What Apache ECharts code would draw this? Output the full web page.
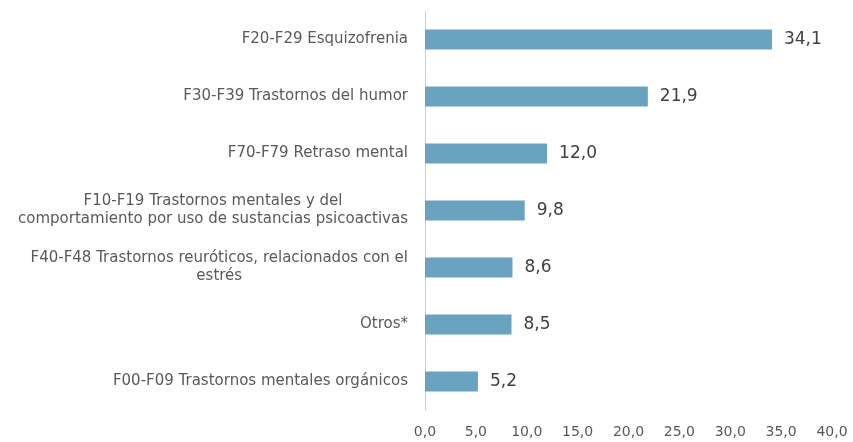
<!DOCTYPE html>
<html>
<head>
<meta charset="utf-8">
<script src="https://cdn.jsdelivr.net/npm/echarts@6/dist/echarts.min.js"></script>
<style>
  html, body { margin: 0; padding: 0; background: #fff; }
  #main { width: 853px; height: 442px; }
</style>
</head>
<body>
<div id="main"></div>
<script>
// categories, bottom to top (echarts draws category axis upward)
var categories = [
  "F00-F09 Trastornos mentales orgánicos",
  "Otros*",
  "F40-F48 Trastornos reuróticos, relacionados con el\nestrés",
  "F10-F19 Trastornos mentales y del\ncomportamiento por uso de sustancias psicoactivas",
  "F70-F79 Retraso mental",
  "F30-F39 Trastornos del humor",
  "F20-F29 Esquizofrenia"
];
var values = [5.2, 8.5, 8.6, 9.8, 12.0, 21.9, 34.1];

function coma(v) {
  return Number(v).toFixed(1).replace(".", ",");
}

var myChart = echarts.init(document.getElementById("main"));

var option = {
  animation: false,
  textStyle: { fontFamily: "DejaVu Sans" },
  grid: {
    left: 425,
    right: 21,
    top: 11,
    bottom: 32
  },
  xAxis: {
    type: "value",
    min: 0,
    max: 40,
    interval: 5,
    axisLine: { show: false },
    axisTick: { show: false },
    splitLine: { show: false },
    axisLabel: {
      color: "#595959",
      fontSize: 14,
      margin: 15,
      fontFamily: "DejaVu Sans",
      formatter: coma
    }
  },
  yAxis: {
    type: "category",
    data: categories,
    axisLine: { show: true, lineStyle: { color: "#d0d0d0", width: 1 } },
    axisTick: { show: false },
    axisLabel: {
      color: "#595959",
      fontSize: 15,
      margin: 17,
      lineHeight: 18,
      formatter: function (v) {
        return v.split("\n").map(function (s) { return "{c|" + s + "}"; }).join("\n");
      },
      rich: {
        c: { align: "center", fontSize: 15, color: "#595959", lineHeight: 18, fontFamily: "DejaVu Sans" }
      }
    }
  },
  series: [
    {
      type: "bar",
      data: values,
      barWidth: 20,
      itemStyle: { color: "#6aa3bf" },
      label: {
        show: true,
        position: "right",
        distance: 12,
        color: "#404040",
        fontSize: 17,
        fontFamily: "DejaVu Sans",
        formatter: function (p) { return coma(p.value); }
      }
    }
  ]
};

myChart.setOption(option);
</script>
</body>
</html>
